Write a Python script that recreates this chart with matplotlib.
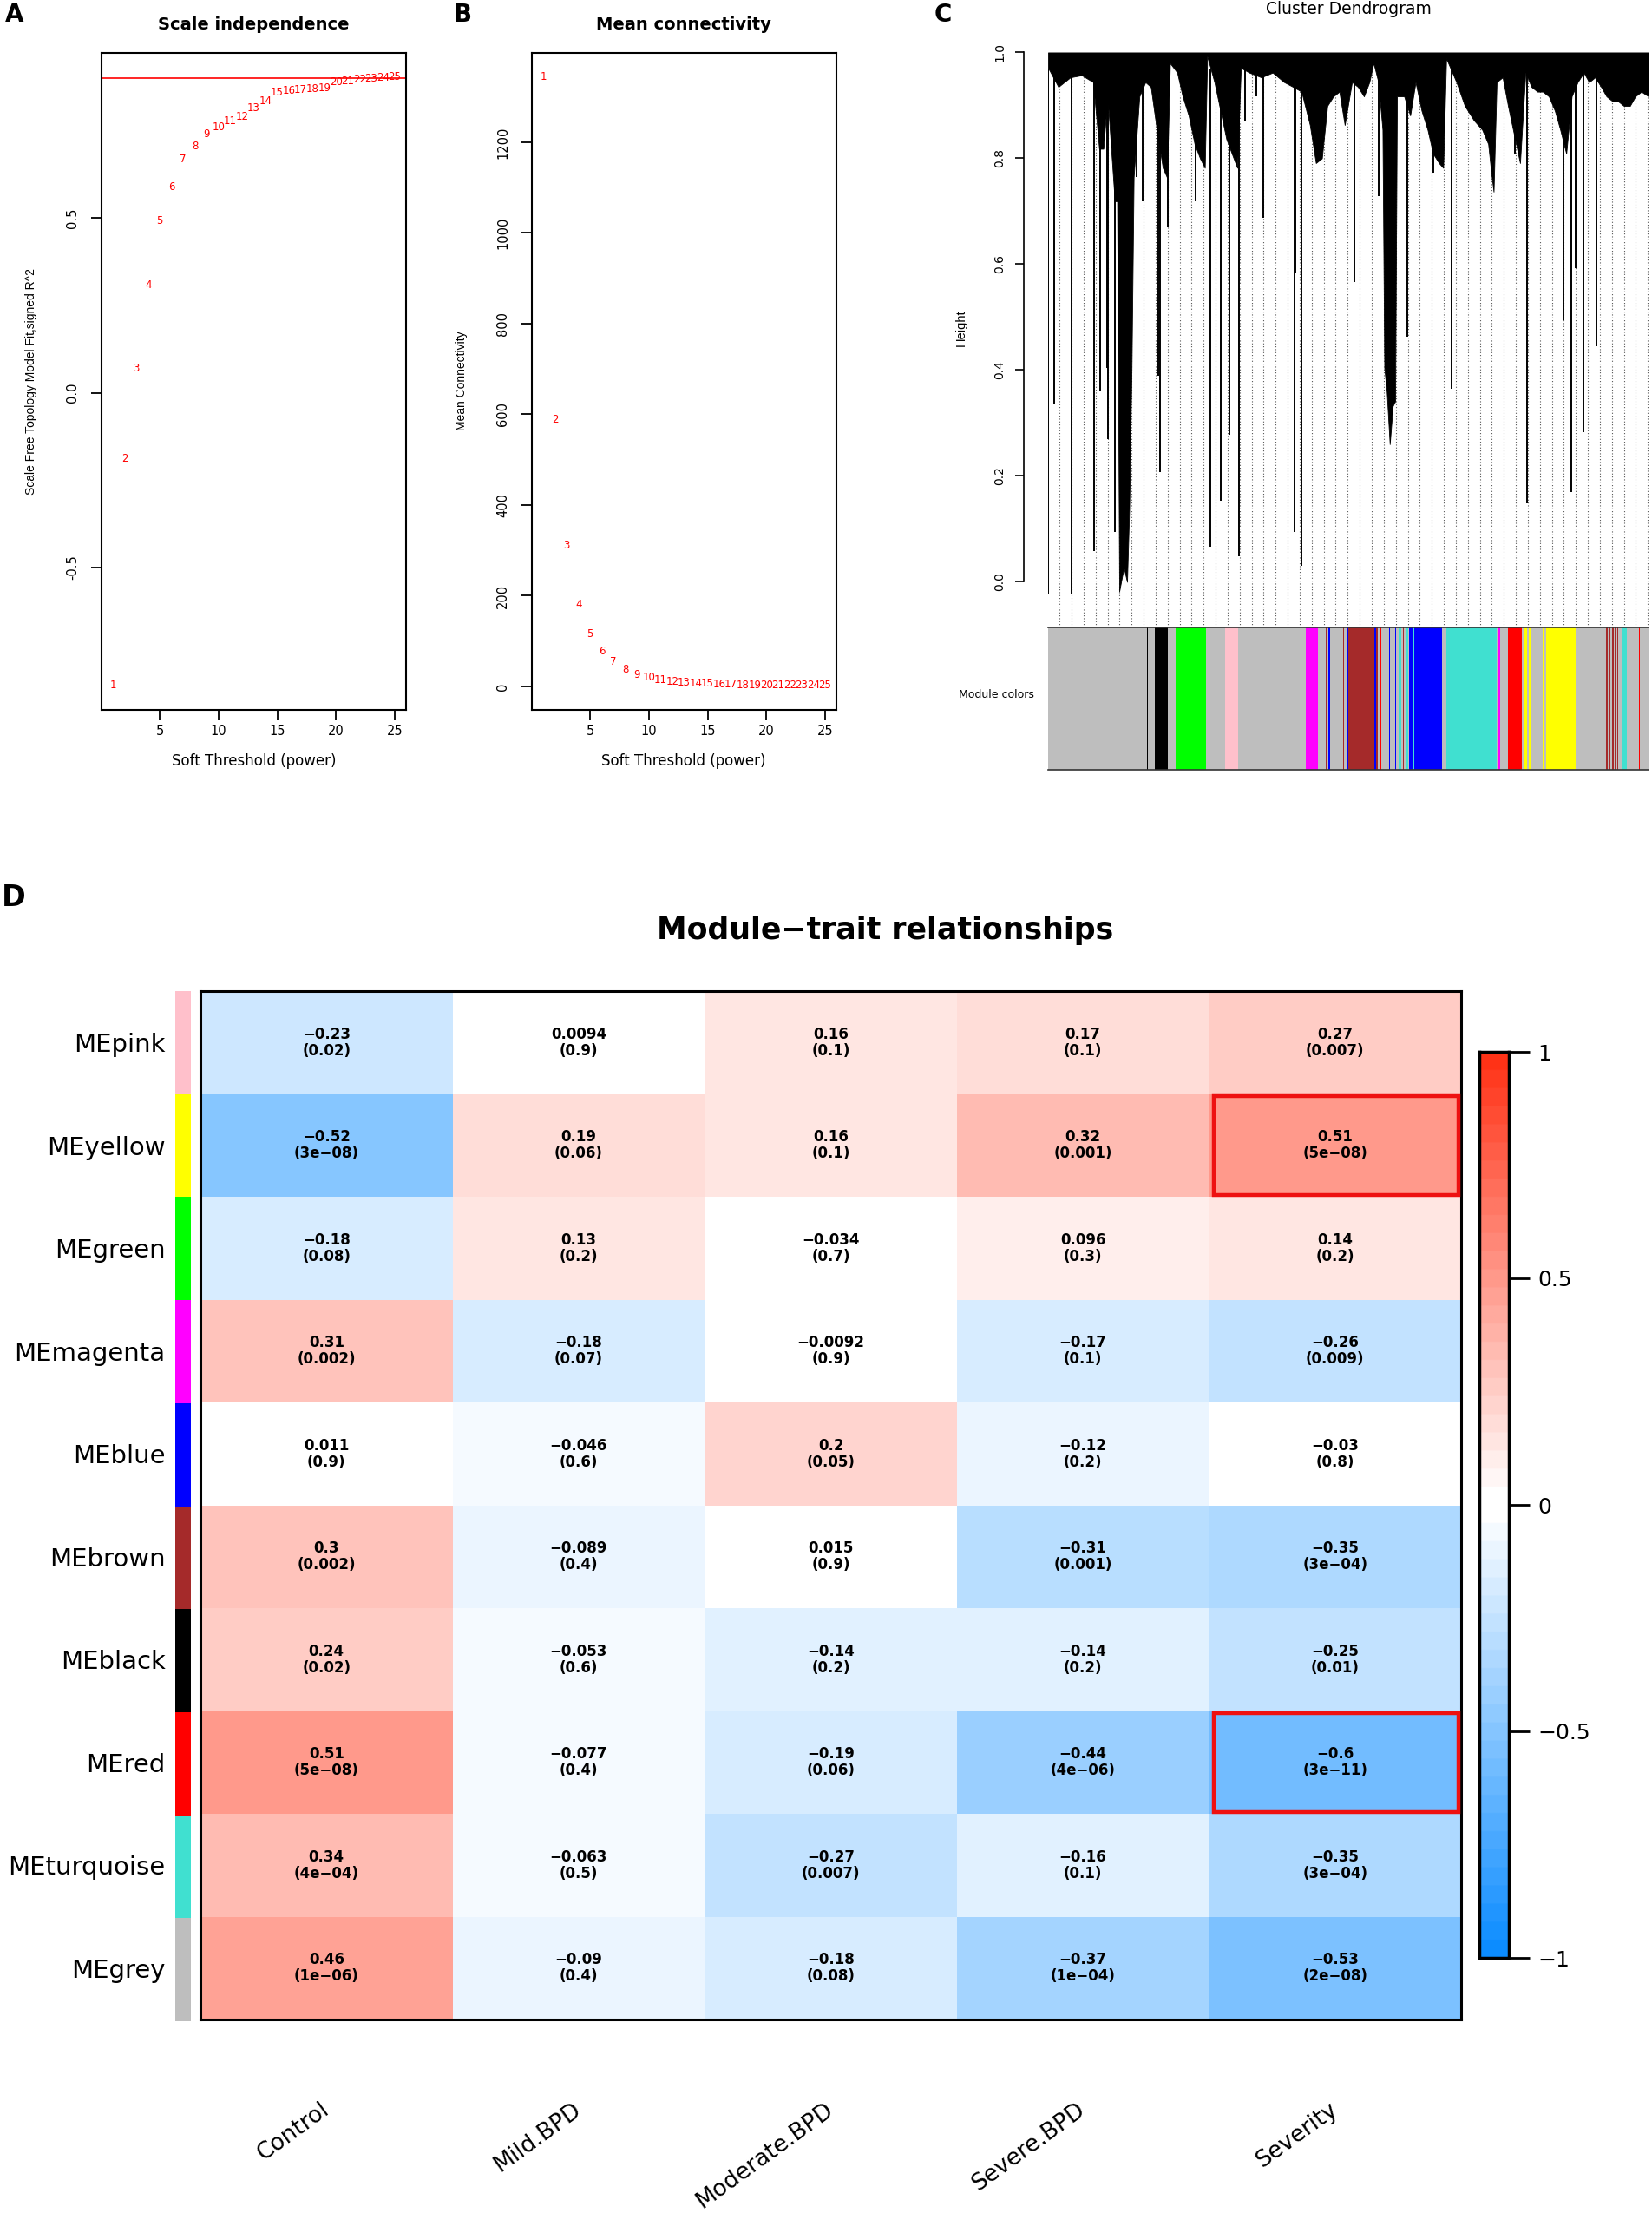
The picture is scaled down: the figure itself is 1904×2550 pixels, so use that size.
import numpy as np
import matplotlib
matplotlib.use("Agg")
import matplotlib.pyplot as plt
from matplotlib.colors import ListedColormap
from matplotlib.patches import Rectangle
from matplotlib.ticker import FormatStrFormatter

plt.rcParams['axes.unicode_minus'] = False
NARROW = ['Liberation Sans', 'DejaVu Sans']

W, H = 1904, 2550

# ---------------- data: soft threshold (A, B)
powers = list(range(1, 26))
sft_r2 = [-0.837, -0.188, 0.070, 0.307, 0.492, 0.589, 0.667, 0.704, 0.739, 0.760,
          0.776, 0.790, 0.815, 0.833, 0.858, 0.864, 0.866, 0.868, 0.871, 0.889,
          0.892, 0.895, 0.898, 0.901, 0.903]
mean_k = [1344, 589, 310, 181, 115, 78, 54, 37, 26, 21, 15, 11, 9, 7.5, 6,
          5, 4, 3.5, 3, 2.5, 2.3, 2.1, 2, 2, 2]
r2_cut = 0.90

# ---------------- data: dendrogram (C)
canopy_x = [0.000, 0.017, 0.037, 0.056, 0.075, 0.085, 0.092, 0.099, 0.111, 0.115,
            0.1185, 0.126, 0.1315, 0.135, 0.139, 0.1425, 0.152, 0.162, 0.171, 0.181,
            0.191, 0.198, 0.203, 0.215, 0.224, 0.234, 0.244, 0.253, 0.261, 0.265,
            0.277, 0.287, 0.297, 0.306, 0.315, 0.321, 0.335, 0.355, 0.374, 0.393,
            0.408, 0.422, 0.436, 0.446, 0.456, 0.465, 0.475, 0.485, 0.494, 0.506,
            0.516, 0.526, 0.535, 0.542, 0.550, 0.557, 0.560, 0.564, 0.569, 0.574,
            0.578, 0.581, 0.593, 0.603, 0.612, 0.622, 0.632, 0.641, 0.651, 0.658,
            0.663, 0.680, 0.694, 0.709, 0.723, 0.733, 0.738, 0.742, 0.747, 0.757,
            0.766, 0.776, 0.786, 0.795, 0.805, 0.815, 0.824, 0.834, 0.844, 0.853,
            0.863, 0.872, 0.882, 0.892, 0.901, 0.911, 0.921, 0.930, 0.940, 0.949,
            0.959, 0.969, 0.978, 0.988, 1.000]
canopy_h = [0.971, 0.935, 0.953, 0.957, 0.944, 0.818, 0.818, 0.917, 0.719, 0.719,
            -0.018, 0.027, 0.000, 0.135, 0.404, 0.764, 0.917, 0.944, 0.935, 0.854,
            0.782, 0.764, 0.980, 0.962, 0.917, 0.881, 0.827, 0.800, 0.782, 0.993,
            0.944, 0.890, 0.836, 0.809, 0.782, 0.971, 0.962, 0.953, 0.962, 0.944,
            0.935, 0.926, 0.863, 0.791, 0.800, 0.899, 0.917, 0.926, 0.863, 0.944,
            0.935, 0.917, 0.944, 0.980, 0.944, 0.854, 0.404, 0.359, 0.260, 0.332,
            0.341, 0.917, 0.917, 0.881, 0.944, 0.890, 0.854, 0.809, 0.791, 0.782,
            0.989, 0.944, 0.899, 0.872, 0.854, 0.827, 0.773, 0.737, 0.944, 0.953,
            0.899, 0.845, 0.791, 0.962, 0.935, 0.926, 0.926, 0.917, 0.890, 0.854,
            0.809, 0.917, 0.944, 0.962, 0.944, 0.953, 0.935, 0.917, 0.908, 0.908,
            0.899, 0.899, 0.917, 0.926, 0.917]
leaf_x = [0.000, 0.010, 0.039, 0.077, 0.087, 0.098, 0.100, 0.111, 0.147, 0.157,
          0.184, 0.186, 0.200, 0.246, 0.270, 0.287, 0.302, 0.318, 0.328, 0.347,
          0.359, 0.410, 0.412, 0.422, 0.510, 0.550, 0.575, 0.598, 0.641, 0.672,
          0.778, 0.798, 0.858, 0.872, 0.878, 0.892, 0.913]
leaf_h = [-0.023, 0.337, -0.023, 0.058, 0.360, 0.404, 0.269, 0.094, 0.764, 0.719,
          0.390, 0.207, 0.669, 0.719, 0.067, 0.153, 0.278, 0.049, 0.872, 0.917,
          0.687, 0.094, 0.584, 0.031, 0.566, 0.728, 0.746, 0.463, 0.773, 0.364,
          0.809, 0.148, 0.494, 0.170, 0.593, 0.283, 0.445]

R_COL = {'grey': '#BEBEBE', 'black': '#000000', 'green': '#00FF00', 'pink': '#FFC0CB',
         'magenta': '#FF00FF', 'brown': '#A52A2A', 'blue': '#0000FF', 'red': '#FF0000',
         'turquoise': '#40E0D0', 'yellow': '#FFFF00'}

module_starts = [0.0, 0.1642, 0.1662, 0.1773, 0.1989, 0.2124, 0.2630, 0.2943, 0.3169, 0.4292,
                 0.4499, 0.4624, 0.4643, 0.4672, 0.4692, 0.4908, 0.4932, 0.4981, 0.5001, 0.5438,
                 0.5458, 0.5496, 0.5520, 0.5544, 0.5679, 0.5698, 0.5775, 0.5800, 0.5833, 0.5882,
                 0.5906, 0.5920, 0.5954, 0.6002, 0.6016, 0.6064, 0.6103, 0.6566, 0.6628, 0.7471,
                 0.7505, 0.7529, 0.7654, 0.7890, 0.7929, 0.7977, 0.8011, 0.8049, 0.8242, 0.8266,
                 0.8300, 0.8781, 0.9292, 0.9320, 0.9340, 0.9365, 0.9390, 0.9415, 0.9440, 0.9465,
                 0.9480, 0.9494, 0.9567, 0.9639, 0.9841, 0.9860]
module_names = ['grey', 'black', 'grey', 'black', 'grey', 'green', 'grey', 'pink', 'grey', 'magenta',
                'grey', 'brown', 'grey', 'blue', 'grey', 'brown', 'grey', 'blue', 'brown', 'blue',
                'brown', 'grey', 'red', 'grey', 'blue', 'grey', 'blue', 'grey', 'turquoise', 'grey',
                'brown', 'grey', 'turquoise', 'grey', 'blue', 'turquoise', 'blue', 'grey', 'turquoise', 'grey',
                'magenta', 'grey', 'red', 'grey', 'yellow', 'grey', 'yellow', 'grey', 'yellow', 'grey',
                'yellow', 'grey', 'brown', 'grey', 'brown', 'grey', 'brown', 'grey', 'brown', 'grey',
                'brown', 'grey', 'turquoise', 'grey', 'red', 'grey']

# ---------------- data: module-trait heatmap (D)
modules = ['MEpink', 'MEyellow', 'MEgreen', 'MEmagenta', 'MEblue', 'MEbrown',
           'MEblack', 'MEred', 'MEturquoise', 'MEgrey']
row_colors = ['pink', 'yellow', 'green', 'magenta', 'blue', 'brown',
              'black', 'red', 'turquoise', 'grey']
traits = ['Control', 'Mild.BPD', 'Moderate.BPD', 'Severe.BPD', 'Severity']
cor = [[-0.23, 0.0094, 0.16, 0.17, 0.27],
       [-0.52, 0.19, 0.16, 0.32, 0.51],
       [-0.18, 0.13, -0.034, 0.096, 0.14],
       [0.31, -0.18, -0.0092, -0.17, -0.26],
       [0.011, -0.046, 0.2, -0.12, -0.03],
       [0.3, -0.089, 0.015, -0.31, -0.35],
       [0.24, -0.053, -0.14, -0.14, -0.25],
       [0.51, -0.077, -0.19, -0.44, -0.6],
       [0.34, -0.063, -0.27, -0.16, -0.35],
       [0.46, -0.09, -0.18, -0.37, -0.53]]
pval = [['0.02', '0.9', '0.1', '0.1', '0.007'],
        ['3e-08', '0.06', '0.1', '0.001', '5e-08'],
        ['0.08', '0.2', '0.7', '0.3', '0.2'],
        ['0.002', '0.07', '0.9', '0.1', '0.009'],
        ['0.9', '0.6', '0.05', '0.2', '0.8'],
        ['0.002', '0.4', '0.9', '0.001', '3e-04'],
        ['0.02', '0.6', '0.2', '0.2', '0.01'],
        ['5e-08', '0.4', '0.06', '4e-06', '3e-11'],
        ['4e-04', '0.5', '0.007', '0.1', '3e-04'],
        ['1e-06', '0.4', '0.08', '1e-04', '2e-08']]
highlight = [('MEyellow', 'Severity'), ('MEred', 'Severity')]


def fx(px):
    return px / W


def fy(py):
    return 1 - py / H


def axes_px(l, t, r, b):
    return fig.add_axes([l / W, 1 - b / H, (r - l) / W, (b - t) / H])


def r_lim(vals):
    lo, hi = min(vals), max(vals)
    pad = 0.04 * (hi - lo)
    return lo - pad, hi + pad


# blueWhiteRed(50) like WGCNA
blue_end = np.array([0.05, 0.55, 1.0])
red_end = np.array([1.0, 0.2, 0.09])
white = np.ones(3)
bwr = []
for k in range(50):
    if k <= 24:
        t = (24 - k) / 24
        bwr.append(white + t * (blue_end - white))
    else:
        t = (k - 25) / 24
        bwr.append(white + t * (red_end - white))
cmap = ListedColormap(bwr)

fig = plt.figure(figsize=(W / 100, H / 100), dpi=100)

# ---------------- A
axA = axes_px(117, 60.6, 468, 818)
for p, r in zip(powers, sft_r2):
    axA.text(p, r, str(p), color='red', ha='center', va='center', fontsize=8.5)
axA.axhline(r2_cut, color='red', lw=1.2)
axA.set_xlim(*r_lim(powers))
axA.set_ylim(*r_lim(sft_r2))
axA.set_xticks([5, 10, 15, 20, 25])
axA.set_yticks([-0.5, 0.0, 0.5])
axA.yaxis.set_major_formatter(FormatStrFormatter('%.1f'))

# ---------------- B
axB = axes_px(613, 60.6, 964, 818)
for p, k in zip(powers, mean_k):
    axB.text(p, k, str(p), color='red', ha='center', va='center', fontsize=8.5)
axB.set_xlim(*r_lim(powers))
axB.set_ylim(*r_lim(mean_k))
axB.set_xticks([5, 10, 15, 20, 25])
axB.set_yticks([0, 200, 400, 600, 800, 1000, 1200])

for ax in (axA, axB):
    for s in ax.spines.values():
        s.set_linewidth(1.5)
    ax.tick_params(axis='both', length=8.5, width=1.3, labelsize=10.5)
    ax.tick_params(axis='x', pad=4)
    ax.tick_params(axis='y', pad=10)
    for lab in ax.get_yticklabels():
        lab.set_rotation(90)
        lab.set_va('center')

fig.text(fx(17), fy(17), 'A', fontsize=20, fontweight='bold', ha='center', va='center')
fig.text(fx(533), fy(17), 'B', fontsize=20, fontweight='bold', ha='center', va='center')
fig.text(fx(1087), fy(17), 'C', fontsize=20, fontweight='bold', ha='center', va='center')
fig.text(fx(16), fy(1035), 'D', fontsize=24, fontweight='bold', ha='center', va='center')

fig.text(fx(292.5), fy(28), 'Scale independence', fontsize=14, fontweight='bold',
         ha='center', va='center')
fig.text(fx(788), fy(28), 'Mean connectivity', fontsize=14, fontweight='bold',
         ha='center', va='center')
fig.text(fx(292.5), fy(877), 'Soft Threshold (power)', fontsize=12, ha='center', va='center')
fig.text(fx(788), fy(877), 'Soft Threshold (power)', fontsize=12, ha='center', va='center')
fig.text(fx(36), fy(439), 'Scale Free Topology Model Fit,signed R^2', fontsize=10,
         family=NARROW, rotation=90, ha='center', va='center')
fig.text(fx(532), fy(439), 'Mean Connectivity', fontsize=10, family=NARROW,
         rotation=90, ha='center', va='center')

# ---------------- C: dendrogram + module colors
axT = axes_px(1208, 57.4, 1900, 723)
axT.set_xlim(0, 1)
axT.set_ylim(-0.0861, 1.005)
guides = np.arange(1, 51) * 0.02 - 0.001
axT.vlines(guides, -0.0861, 0.96, colors='#555555', lw=0.8, linestyles=(0, (1, 2)), zorder=1)
axT.fill_between(canopy_x, canopy_h, 1.0, color='black', lw=0.6, zorder=3)
axT.vlines(leaf_x, leaf_h, 0.97, colors='black', lw=1.4, zorder=3)
for side in ('top', 'right', 'bottom'):
    axT.spines[side].set_visible(False)
axT.spines['left'].set_bounds(0, 1)
axT.spines['left'].set_position(('outward', 20))
axT.spines['left'].set_linewidth(1.2)
axT.set_xticks([])
axT.set_yticks([0.0, 0.2, 0.4, 0.6, 0.8, 1.0])
axT.yaxis.set_major_formatter(FormatStrFormatter('%.1f'))
axT.tick_params(axis='y', length=7, width=1.2, labelsize=10, pad=8)
for lab in axT.get_yticklabels():
    lab.set_rotation(90)
    lab.set_va('center')

axM = axes_px(1208, 723, 1900, 887)
ends = module_starts[1:] + [1.0]
widths = [e - s for s, e in zip(module_starts, ends)]
axM.bar(module_starts, 1, width=widths, align='edge',
        color=[R_COL[n] for n in module_names], lw=0)
axM.set_xlim(0, 1)
axM.set_ylim(0, 1)
axM.set_xticks([])
axM.set_yticks([])
for s in axM.spines.values():
    s.set_color('#333333')
    s.set_linewidth(1.2)
axM.spines['left'].set_visible(False)
axM.spines['right'].set_visible(False)

fig.text(fx(1554), fy(10), 'Cluster Dendrogram', fontsize=13.5, ha='center', va='center')
fig.text(fx(1108), fy(378), 'Height', fontsize=10.5, family=NARROW, rotation=90,
         ha='center', va='center')
fig.text(fx(1192), fy(800), 'Module colors', fontsize=9, ha='right', va='center')

# ---------------- D: module-trait heatmap
axD = axes_px(231, 1142, 1684, 2327)
cor_arr = np.array(cor)
axD.pcolormesh(cor_arr, cmap=cmap, vmin=-1, vmax=1)
axD.set_xlim(0, len(traits))
axD.set_ylim(len(modules), 0)
for i in range(len(modules)):
    for j in range(len(traits)):
        txt = f"{cor[i][j]:g}\n({pval[i][j]})".replace('-', '\u2212')
        axD.text(j + 0.5, i + 0.5, txt, ha='center', va='center', fontsize=12,
                 fontweight='bold', linespacing=1.05)
for mod, tr in highlight:
    i, j = modules.index(mod), traits.index(tr)
    axD.add_patch(Rectangle((j + 0.02, i + 0.02), 0.97, 0.96, fill=False,
                            edgecolor='#EE1111', lw=3.2, zorder=5))
axD.set_yticks(np.arange(len(modules)) + 0.5)
axD.set_yticklabels(modules, fontsize=21)
axD.set_xticks(np.arange(len(traits)) + 0.5)
axD.set_xticklabels(traits, fontsize=19, rotation=36, ha='right', va='center',
                    rotation_mode='anchor')
axD.tick_params(axis='y', length=0, pad=29)
axD.tick_params(axis='x', length=0, pad=73)
for s in axD.spines.values():
    s.set_linewidth(2.2)

axS = axes_px(202, 1142, 220, 2329)
axS.bar(0, 1, bottom=np.arange(len(modules)), width=1, align='edge',
        color=[R_COL[c] for c in row_colors], lw=0)
axS.set_xlim(0, 1)
axS.set_ylim(len(modules), 0)
axS.axis('off')

fig.text(fx(1020), fy(1072), 'Module\u2212trait relationships', fontsize=25,
         fontweight='bold', ha='center', va='center')

axC = axes_px(1705, 1212, 1739, 2256)
axC.imshow(np.linspace(1, -1, 500)[:, None], cmap=cmap, vmin=-1, vmax=1,
           aspect='auto', extent=(0, 1, -1, 1))
axC.set_xlim(0, 1)
axC.set_ylim(-1, 1)
axC.set_xticks([])
axC.yaxis.tick_right()
axC.set_yticks([-1, -0.5, 0, 0.5, 1])
axC.set_yticklabels(['\u22121', '\u22120.5', '0', '0.5', '1'])
axC.tick_params(axis='y', length=17, width=2, labelsize=18, pad=7)
for s in axC.spines.values():
    s.set_linewidth(2.5)

fig.savefig('out.png', dpi=100)
